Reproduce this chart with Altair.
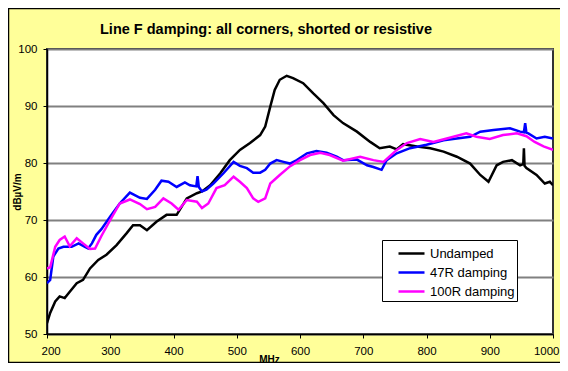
import altair as alt
import pandas as pd

title_text = "Line F damping: all corners, shorted or resistive"
series_names = ["Undamped", "47R damping", "100R damping"]
series_colors = ["#000000", "#0000FF", "#FF00FF"]
x_ticks = [200, 300, 400, 500, 600, 700, 800, 900, 1000]
y_ticks = [50, 60, 70, 80, 90, 100]

undamped_mhz = [200, 205, 213, 220, 228, 236, 247, 257, 268, 281, 294, 310, 326, 336, 347, 358,
                373, 389, 405, 421, 437, 445, 458, 474, 489, 505, 521, 537, 545, 553, 560, 568,
                579, 589, 605, 621, 637, 653, 668, 690, 711, 726, 742, 753, 763, 785, 806, 827,
                848, 869, 885, 898, 911, 921, 935, 948, 953, 954, 955, 958, 974, 987, 995, 1000]
undamped_db = [51.9, 53.7, 55.7, 56.6, 56.3, 57.4, 58.9, 59.5, 61.5, 63.0, 63.9, 65.6, 67.7, 69.1, 69.1, 68.2,
               69.7, 70.9, 70.9, 73.8, 74.7, 75.0, 76.1, 78.2, 80.5, 82.3, 83.5, 84.9, 86.4, 89.9, 92.8, 94.6,
               95.3, 94.9, 94.0, 92.2, 90.5, 88.4, 87.0, 85.5, 83.7, 82.6, 82.9, 82.4, 83.3, 82.9, 82.6, 82.0,
               81.1, 79.9, 77.9, 76.7, 79.6, 80.2, 80.5, 79.6, 79.8, 82.6, 79.5, 79.1, 77.9, 76.4, 76.7, 76.1]

r47_mhz = [200, 205, 210, 218, 226, 239, 250, 260, 265, 271, 278, 286, 300, 315, 331, 347,
           358, 371, 381, 392, 405, 418, 426, 436, 438, 440, 445, 452, 463, 479, 495, 505,
           516, 526, 537, 545, 553, 563, 574, 584, 595, 611, 626, 642, 658, 668, 690, 706,
           716, 729, 737, 753, 774, 800, 827, 848, 869, 885, 906, 932, 948, 954, 956, 958,
           961, 974, 987, 1000]
r47_db = [58.9, 59.5, 63.6, 65.0, 65.3, 65.3, 65.9, 65.3, 65.0, 65.9, 67.4, 68.4, 70.6, 72.9, 74.8, 73.9,
          73.7, 75.3, 76.9, 76.7, 75.8, 76.6, 76.1, 75.9, 77.7, 75.8, 75.0, 75.3, 76.4, 78.2, 80.2, 79.5,
          79.1, 78.3, 78.3, 78.8, 79.9, 80.5, 80.2, 79.9, 80.5, 81.7, 82.1, 81.8, 81.1, 80.5, 80.6, 79.6,
          79.3, 78.8, 80.5, 81.7, 82.6, 83.2, 84.0, 84.3, 84.6, 85.5, 85.8, 86.1, 85.5, 85.4, 87.0, 85.3,
          85.2, 84.3, 84.6, 84.3]

r100_mhz = [200, 205, 213, 220, 228, 236, 247, 257, 268, 276, 286, 300, 315, 331, 347, 358,
            371, 384, 397, 408, 421, 437, 445, 455, 468, 481, 495, 505, 516, 526, 534, 545,
            553, 568, 584, 600, 616, 632, 647, 668, 695, 716, 732, 753, 769, 790, 811, 832,
            863, 879, 900, 921, 943, 958, 971, 985, 1000]
r100_db = [61.5, 61.7, 65.3, 66.5, 67.1, 65.4, 66.8, 65.9, 64.9, 65.0, 67.2, 70.0, 72.9, 73.6, 72.8, 71.9,
           72.3, 73.8, 72.9, 71.8, 73.5, 73.2, 72.1, 72.9, 75.6, 76.1, 77.6, 76.7, 75.6, 73.8, 73.2, 73.8,
           76.4, 77.9, 79.4, 80.5, 81.4, 81.8, 81.4, 80.4, 81.1, 80.5, 80.2, 82.3, 83.5, 84.2, 83.7, 84.3,
           85.2, 84.6, 84.2, 84.9, 85.2, 84.7, 83.7, 82.9, 82.3]

rows = []
for name, xs, ys in zip(series_names,
                        [undamped_mhz, r47_mhz, r100_mhz],
                        [undamped_db, r47_db, r100_db]):
    for i, (xv, yv) in enumerate(zip(xs, ys)):
        rows.append({"series": name, "mhz": xv, "db": yv, "idx": i})
df = pd.DataFrame(rows)

W, H = 506, 285
FONT = "Liberation Sans"

border = alt.Chart(pd.DataFrame({"k": [0]})).mark_rect(
    fill=None, stroke="#000000", strokeWidth=1.5
).encode(
    x=alt.value(-38.5), x2=alt.value(W + 40),
    y=alt.value(-40.5), y2=alt.value(H + 28.5)
)

lines = alt.Chart(df).mark_line(strokeWidth=2.5, clip=True).encode(
    x=alt.X("mhz:Q",
            scale=alt.Scale(domain=[200, 1000], nice=False, zero=False),
            axis=alt.Axis(values=x_ticks, title="MHz", grid=False, format="d",
                          labelFontSize=11.5, labelPadding=7, tickSize=4,
                          labelFlush=True, labelFlushOffset=6,
                          titleX=222, titleY=25, titleBaseline="middle",
                          titleFontSize=10)),
    y=alt.Y("db:Q",
            scale=alt.Scale(domain=[50, 100], nice=False, zero=False),
            axis=alt.Axis(values=y_ticks, title="dBµV/m", grid=True,
                          labelFontSize=11.5, labelPadding=6, tickSize=4,
                          titleAngle=-90, titleX=-30, titleY=H / 2,
                          titleAlign="center", titleBaseline="middle",
                          titleFontSize=10)),
    color=alt.Color("series:N",
                    scale=alt.Scale(domain=series_names, range=series_colors),
                    sort=series_names,
                    legend=alt.Legend(title=None, orient="none", legendX=335, legendY=191,
                                      symbolType="M-1.3,0H1.3", symbolSize=400,
                                      symbolStrokeWidth=2.5, symbolOffset=16,
                                      labelFontSize=13, labelOffset=7,
                                      labelFont=FONT, labelColor="#000000",
                                      rowPadding=-3, padding=2,
                                      fillColor="#FFFFFF", strokeColor="#000000")),
    order="idx:Q",
)

chart = alt.layer(border, lines).properties(
    width=W, height=H,
    autosize=alt.AutoSizeParams(type="none"),
    padding={"left": 39, "top": 41, "right": 7, "bottom": 29},
    title=alt.TitleParams(text=title_text, font=FONT, fontSize=14.5, fontWeight="bold",
                          color="#000000", anchor="middle", frame="group", dx=-34, dy=55,
                          baseline="alphabetic", offset=14),
).configure(
    background="#FFFF99"
).configure_view(
    fill="#FFFFFF", stroke="#333333", strokeWidth=2
).configure_axis(
    labelFont=FONT, titleFont=FONT, labelColor="#000000", titleColor="#000000",
    titleFontWeight="bold", tickColor="#000000", domainColor="#000000",
    domainWidth=1.5, gridColor="#808080", gridWidth=2
)

chart.save("out.html", embed_options={"renderer": "svg", "actions": False})
